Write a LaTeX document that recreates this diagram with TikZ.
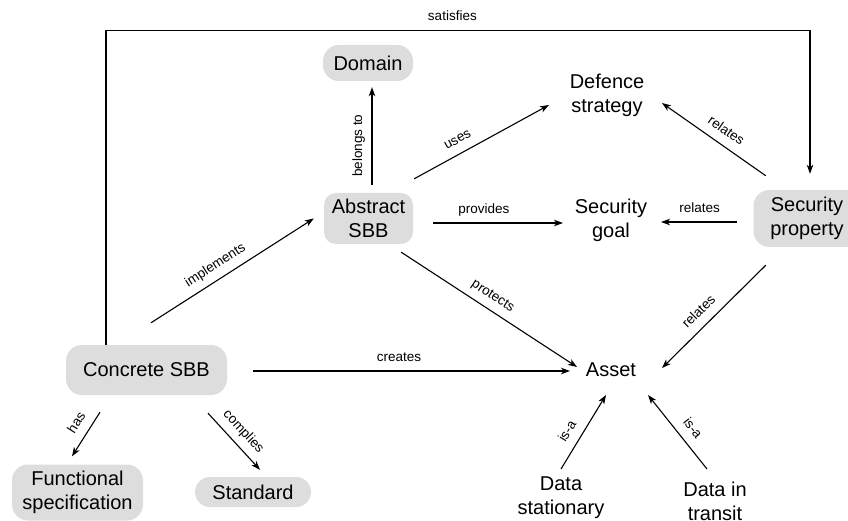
\documentclass[tikz,border=0pt]{standalone}
\usepackage{fontspec}
\setmainfont{Liberation Sans}
\usetikzlibrary{arrows.meta}
\definecolor{boxfill}{RGB}{221,221,221}
\begin{document}
\begin{tikzpicture}[x=1pt,y=-1pt,
  concept/.style={align=center,inner sep=0pt,font=\fontsize{20}{24}\selectfont},
  boxed/.style={concept,fill=boxfill,rounded corners=12pt},
  rel/.style={line width=1.1pt,-{Stealth[length=9pt,width=6.5pt,inset=2.5pt]}},
  lbl/.style={sloped,above=6.5pt,inner sep=0pt,text height=9.7pt,text depth=2.8pt,
              font=\fontsize{13.5}{16}\selectfont}]
\useasboundingbox (0,0) rectangle (848,521);

% concepts
\node[boxed,minimum width=90pt,minimum height=36pt,rounded corners=16pt] (dom) at (368,63) {Domain};
\node[concept] (def) at (607,95) {Defence\\strategy};
\node[boxed,minimum width=89pt,minimum height=51pt] (absb) at (368.5,218.5) {Abstract\\SBB};
\node[concept] (goal) at (611,220) {Security\\goal};
\node[boxed,minimum width=107pt,minimum height=57pt,rounded corners=16pt] (spro) at (807,218.5) {Security\\property};
\node[boxed,minimum width=161pt,minimum height=50pt,rounded corners=16pt] (csbb) at (146.5,370) {Concrete SBB};
\node[concept] (asset) at (611,370) {Asset};
\node[boxed,minimum width=131pt,minimum height=56pt,rounded corners=16pt] (func) at (77.5,492.5) {Functional\\specification};
\node[boxed,minimum width=116pt,minimum height=30pt,rounded corners=15pt] (std) at (253,492) {Standard};
\node[concept] (dstat) at (561,498) {Data\\stationary};
\node[concept] (dtrans) at (715,501) {Data in\\transit};

% relations
\draw[rel] ([xshift=-40.5pt]csbb.north) -- ++(0,-314)
  -| node[pos=0.246,lbl]{satisfies} ([xshift=3pt,yshift=16pt]spro.north);
\draw[rel] ([xshift=4.5pt,yshift=22pt]csbb.north) -- node[pos=0.44,lbl]{implements} ([xshift=-10pt]absb.west);
\draw[rel] ([xshift=3.5pt,yshift=8pt]absb.north) -- node[pos=0.40,lbl]{belongs to} ([xshift=4pt,yshift=-6pt]dom.south);
\draw[rel] ([xshift=1pt,yshift=14pt]absb.north east) -- node[pos=0.37,lbl]{uses} ([xshift=-58pt,yshift=-10pt]def.center);
\draw[rel] ([xshift=12.5pt,yshift=14pt]spro.north west) -- node[pos=0.46,lbl]{relates} ([xshift=55pt,yshift=-8pt]def.center);
\draw[rel] ([xshift=20pt,yshift=-4.5pt]absb.east) -- node[pos=0.39,lbl]{provides} ([xshift=-48pt,yshift=-3pt]goal.center);
\draw[rel] ([xshift=-16.5pt,yshift=-3.5pt]spro.west) -- node[pos=0.49,lbl]{relates} ([xshift=50pt,yshift=-2pt]goal.center);
\draw[rel] ([xshift=-12pt,yshift=-8pt]absb.south east) -- node[pos=0.48,lbl]{protects} ([xshift=-34pt,yshift=3pt]asset.center);
\draw[rel] ([xshift=12.5pt,yshift=-18pt]spro.south west) -- node[pos=0.55,lbl]{relates} ([xshift=51pt,yshift=2pt]asset.center);
\draw[rel] ([xshift=26pt,yshift=-1pt]csbb.east) -- node[pos=0.46,lbl]{creates} ([xshift=-41pt,yshift=-1pt]asset.center);
\draw[rel] ([xshift=-46.5pt,yshift=-17pt]csbb.south) -- node[pos=0.41,lbl]{has} ([xshift=-5.5pt,yshift=8pt]func.north);
\draw[rel] ([xshift=61.5pt,yshift=-18pt]csbb.south) -- node[pos=0.49,lbl]{complies} ([xshift=7pt,yshift=7pt]std.north);
\draw[rel] ([yshift=29pt]dstat.center) -- node[pos=0.41,lbl]{is-a} ([xshift=-5pt,yshift=-25pt]asset.center);
\draw[rel] ([xshift=-8pt,yshift=32pt]dtrans.center) -- node[pos=0.43,lbl]{is-a} ([xshift=37pt,yshift=-25pt]asset.center);
\end{tikzpicture}
\end{document}
